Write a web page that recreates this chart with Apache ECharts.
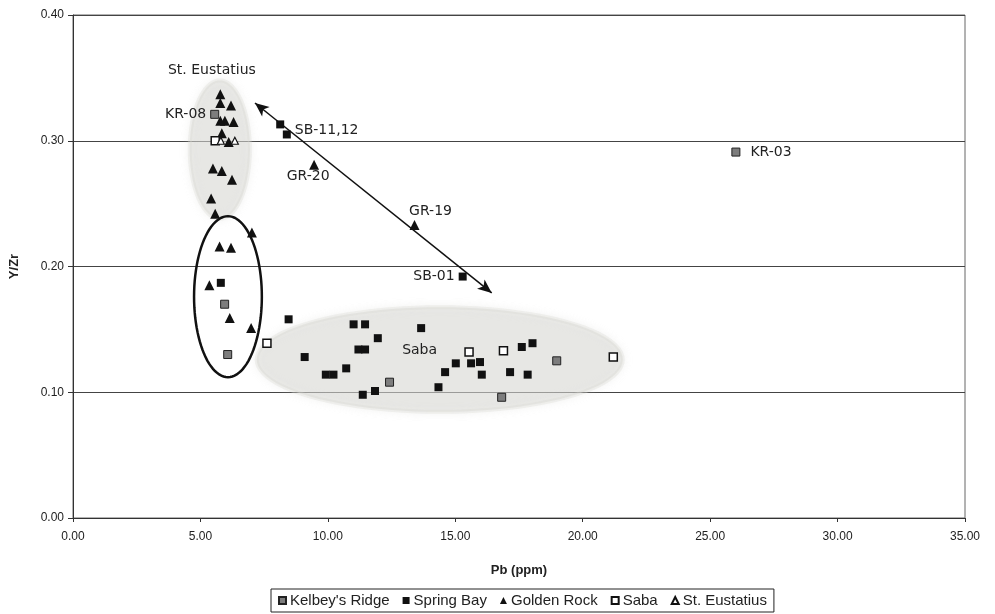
<!DOCTYPE html>
<html>
<head>
<meta charset="utf-8">
<script src="https://cdn.jsdelivr.net/npm/echarts@6/dist/echarts.min.js"></script>
<style>html,body{margin:0;padding:0;background:#fff}#c{width:995px;height:614px}</style>
</head>
<body>
<div id="c"></div>
<script>
// ---- data (Pb ppm, Y/Zr) ----
const kelbeysRidgeX = [5.56, 5.95, 6.07, 12.42, 18.98, 16.82, 26.01];
const kelbeysRidgeY = [0.321, 0.170, 0.130, 0.108, 0.125, 0.096, 0.291];
const kelbeysRidgeNames = ['KR-08', '', '', '', '', '', 'KR-03'];

const springBayX = [8.13, 8.39, 15.29, 5.80, 8.46, 11.01, 11.46, 13.66, 11.96, 11.20, 11.46, 9.09, 10.72, 9.92, 10.22, 14.60, 14.34, 11.85, 11.37, 15.02, 15.62, 15.97, 16.04, 17.61, 18.03, 17.15, 17.84];
const springBayY = [0.313, 0.305, 0.192, 0.187, 0.158, 0.154, 0.154, 0.151, 0.143, 0.134, 0.134, 0.128, 0.119, 0.114, 0.114, 0.116, 0.104, 0.101, 0.098, 0.123, 0.123, 0.124, 0.114, 0.136, 0.139, 0.116, 0.114];
const springBayNames = ['', 'SB-11,12', 'SB-01', '', '', '', '', '', '', '', '', '', '', '', '', '', '', '', '', '', '', '', '', '', '', '', ''];

const goldenRockX = [5.78, 5.78, 6.20, 5.78, 5.96, 6.30, 5.84, 6.11, 5.49, 5.84, 6.24, 5.42, 5.58, 7.02, 5.75, 6.20, 5.35, 6.15, 6.99, 9.46, 13.40];
const goldenRockY = [0.337, 0.330, 0.328, 0.316, 0.316, 0.315, 0.306, 0.299, 0.278, 0.276, 0.269, 0.254, 0.242, 0.227, 0.216, 0.215, 0.185, 0.159, 0.151, 0.281, 0.233];
const goldenRockNames = ['', '', '', '', '', '', '', '', '', '', '', '', '', '', '', '', '', '', '', 'GR-20', 'GR-19'];

const sabaX = [5.58, 7.61, 15.54, 16.89, 21.20];
const sabaY = [0.300, 0.139, 0.132, 0.133, 0.128];

const stEustatiusX = [5.80, 6.35];
const stEustatiusY = [0.300, 0.300];

// annotation ellipses: centre x, centre y, radius x, radius y (data units)
const ellipseStEustatius = [5.76, 0.293, 1.18, 0.055];
const ellipseLowCluster = [6.08, 0.176, 1.33, 0.064];
const ellipseSaba = [14.39, 0.126, 7.18, 0.0416];
// trend arrow end points (data units)
const arrowFrom = [7.14, 0.330];
const arrowTo = [16.43, 0.179];
// region captions
const regionText = ['St. Eustatius', 'Saba'];
const regionTextX = [5.45, 13.6];
const regionTextY = [0.356, 0.133];

// ---- chart ----
const annFont = 'DejaVu Sans';
const labelCfg = {
  'KR-08': {position: 'left', distance: 4},
  'KR-03': {position: 'right', distance: 10},
  'SB-11,12': {position: 'right', distance: 4, offset: [0, -4]},
  'SB-01': {position: 'left', distance: 4},
  'GR-20': {position: 'bottom', distance: 0, offset: [-6, 0]},
  'GR-19': {position: 'top', distance: 2, offset: [16, 0]}
};
function pts(xs, ys, names) {
  return xs.map((x, i) => {
    const item = {value: [x, ys[i]]};
    const n = names ? names[i] : '';
    if (n) {
      const c = labelCfg[n];
      item.name = n;
      item.label = Object.assign({show: true, formatter: n, color: '#222', fontFamily: annFont, fontSize: 14}, c);
    }
    return item;
  });
}

function ellipseRender(params, api) {
  const c = api.coord([api.value(0), api.value(1)]);
  const s = api.size([api.value(2), api.value(3)]);
  const kind = api.value(4);
  const pts = [];
  for (let k = 0; k < 96; k++) {
    const a = k / 96 * Math.PI * 2;
    pts.push([c[0] + s[0] * Math.cos(a), c[1] + s[1] * Math.sin(a)]);
  }
  if (kind === 1) {
    return {type: 'polygon', shape: {points: pts}, style: {fill: 'none', stroke: '#111', lineWidth: 2.5}, z2: 5};
  }
  return {type: 'polygon', shape: {points: pts},
    style: {fill: 'rgba(214,214,210,0.45)', stroke: 'rgba(214,214,210,0.3)', lineWidth: 4, shadowBlur: 8, shadowColor: 'rgba(214,214,210,0.6)'}};
}

const chart = echarts.init(document.getElementById('c'), null, {renderer: 'canvas'});
chart.setOption({
  animation: false,
  backgroundColor: '#fff',
  grid: {left: 71, right: 30, top: 15, bottom: 96, show: true, borderColor: '#666', borderWidth: 1},
  xAxis: {
    type: 'value', min: 0, max: 35, interval: 5,
    name: 'Pb (ppm)', nameLocation: 'middle', nameGap: 46,
    nameTextStyle: {fontFamily: 'Liberation Sans', fontWeight: 'bold', fontSize: 13, color: '#222'},
    axisLine: {onZero: false, lineStyle: {color: '#333', width: 1}},
    axisTick: {show: true, length: 4, lineStyle: {color: '#333'}},
    axisLabel: {formatter: v => v.toFixed(2), fontFamily: 'Liberation Sans', fontSize: 12, color: '#222', margin: 13},
    splitLine: {show: false}
  },
  yAxis: {
    type: 'value', min: 0, max: 0.4, interval: 0.1,
    name: 'Y/Zr', nameLocation: 'middle', nameGap: 52,
    nameTextStyle: {fontFamily: 'Liberation Sans', fontWeight: 'bold', fontSize: 13, color: '#222'},
    axisLine: {onZero: false, lineStyle: {color: '#333', width: 1}},
    axisTick: {show: true, length: 5, lineStyle: {color: '#333'}},
    axisLabel: {formatter: v => v.toFixed(2), fontFamily: 'Liberation Sans', fontSize: 12, color: '#222', margin: 9},
    splitLine: {show: true, lineStyle: {color: '#444', width: 1}}
  },
  legend: {
    bottom: 2, left: 271,
    data: ["Kelbey's Ridge", 'Spring Bay', 'Golden Rock', 'Saba', 'St. Eustatius'],
    itemWidth: 7, itemHeight: 7, itemGap: 13,
    borderColor: '#222', borderWidth: 1, padding: [4, 7],
    textStyle: {fontFamily: 'Liberation Sans', fontSize: 15, color: '#222', padding: [0, 0, 0, -1]}
  },
  series: [
    {
      type: 'custom', name: 'regions', renderItem: ellipseRender, silent: true, z: 1,
      data: [
        ellipseStEustatius.concat([0]),
        ellipseSaba.concat([0]),
        ellipseLowCluster.concat([1])
      ]
    },
    {
      type: 'custom', name: 'captions', silent: true, z: 3,
      renderItem: (params, api) => {
        const c = api.coord([api.value(0), api.value(1)]);
        return {type: 'text', x: c[0], y: c[1], style: {text: regionText[params.dataIndex], fill: '#222', font: '14px "DejaVu Sans"', align: 'center', verticalAlign: 'middle'}};
      },
      data: regionTextX.map((x, i) => [x, regionTextY[i]])
    },
    {
      type: 'scatter', name: "Kelbey's Ridge", symbol: 'rect', symbolSize: 8, z: 4,
      itemStyle: {color: '#7d7d7d', borderColor: '#222', borderWidth: 1, opacity: 1},
      data: pts(kelbeysRidgeX, kelbeysRidgeY, kelbeysRidgeNames)
    },
    {
      type: 'scatter', name: 'Spring Bay', symbol: 'rect', symbolSize: 8, z: 4,
      itemStyle: {color: '#111', opacity: 1},
      data: pts(springBayX, springBayY, springBayNames),
      markLine: {
        silent: true, symbol: ['arrow', 'arrow'], symbolSize: [9, 14],
        lineStyle: {color: '#111', width: 1.5, type: 'solid'},
        label: {show: false},
        data: [[{coord: arrowFrom}, {coord: arrowTo}]]
      }
    },
    {
      type: 'scatter', name: 'Golden Rock', symbol: 'triangle', symbolSize: 10, z: 4,
      itemStyle: {color: '#111', opacity: 1},
      data: pts(goldenRockX, goldenRockY, goldenRockNames)
    },
    {
      type: 'scatter', name: 'Saba', symbol: 'rect', symbolSize: 8, z: 4,
      itemStyle: {color: '#fff', borderColor: '#111', borderWidth: 1.5, opacity: 1},
      data: pts(sabaX, sabaY)
    },
    {
      type: 'scatter', name: 'St. Eustatius', symbol: 'triangle', symbolSize: 7, z: 4,
      itemStyle: {color: '#fff', borderColor: '#111', borderWidth: 1.2, opacity: 1},
      data: pts(stEustatiusX, stEustatiusY)
    }
  ]
});
</script>
</body>
</html>
